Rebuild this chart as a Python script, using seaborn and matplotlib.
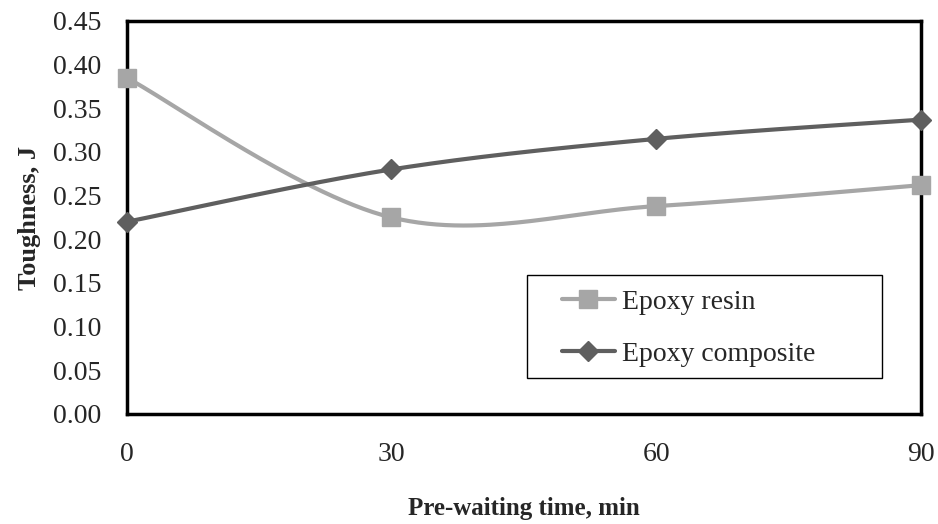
import numpy as np
import pandas as pd
import seaborn as sns
import matplotlib
matplotlib.use("Agg")
import matplotlib.pyplot as plt
from matplotlib.patches import Rectangle

# data
time_min = [0, 30, 60, 90]
resin = [0.385, 0.225, 0.238, 0.262]
composite = [0.220, 0.280, 0.315, 0.337]
series_names = ["Epoxy resin", "Epoxy composite"]
y_ticks = [0.00, 0.05, 0.10, 0.15, 0.20, 0.25, 0.30, 0.35, 0.40, 0.45]


def excel_smooth(x, y, n=60):
    # Excel-style smoothed line: cubic bezier between data points
    x = np.asarray(x, float)
    y = np.asarray(y, float)
    px = np.concatenate([[x[0]], x, [x[-1]]])
    py = np.concatenate([[y[0]], y, [y[-1]]])
    xs, ys = [], []
    t = np.linspace(0, 1, n)
    for i in range(1, len(px) - 2):
        p0 = np.array([px[i], py[i]])
        p3 = np.array([px[i + 1], py[i + 1]])
        c1 = p0 + (np.array([px[i + 1], py[i + 1]]) - np.array([px[i - 1], py[i - 1]])) / 6
        c2 = p3 - (np.array([px[i + 2], py[i + 2]]) - np.array([px[i], py[i]])) / 6
        b = ((1 - t) ** 3)[:, None] * p0 + (3 * (1 - t) ** 2 * t)[:, None] * c1 \
            + (3 * (1 - t) * t ** 2)[:, None] * c2 + (t ** 3)[:, None] * p3
        xs.extend(b[:, 0])
        ys.extend(b[:, 1])
    return np.array(xs), np.array(ys)


sns.set_style("white")
plt.rcParams['font.family'] = ['Liberation Serif', 'DejaVu Serif']

fig, ax = plt.subplots(figsize=(9.38, 5.24), dpi=100)
fig.subplots_adjust(left=0.135, right=0.982, top=0.96, bottom=0.21)

colors = ["#A6A6A6", "#5F5F5F"]
markers = ["s", "D"]
sizes = [13, 10]
for name, vals, c, m, ms in zip(series_names, [resin, composite], colors, markers, sizes):
    sx, sy = excel_smooth(time_min, vals)
    sns.lineplot(x=sx, y=sy, ax=ax, color=c, linewidth=3, sort=False, estimator=None)
    ax.plot(time_min, vals, linestyle="none", marker=m, markersize=ms,
            color=c, clip_on=False, zorder=5)
    # legend proxy
    ax.plot([], [], color=c, linewidth=3, marker=m, markersize=ms, label=name)

ax.set_xlim(0, 90)
ax.set_ylim(0, 0.45)
ax.set_xticks(time_min)
ax.set_yticks(y_ticks)
ax.set_yticklabels([f"{v:.2f}" for v in y_ticks])
ax.tick_params(axis="both", length=0, labelsize=20)
ax.tick_params(axis="x", pad=20)
ax.tick_params(axis="y", pad=18)

for s in ax.spines.values():
    s.set_color("black")
    s.set_linewidth(2.5)

ax.set_xlabel("Pre-waiting time, min", fontsize=18, fontweight="bold", labelpad=22)
ax.set_ylabel("Toughness, J", fontsize=19, fontweight="bold", labelpad=9)

# legend box drawn separately, entries indented like the original
ax.add_patch(Rectangle((0.504, 0.092), 0.447, 0.262, transform=ax.transAxes,
                       fill=True, facecolor="white", edgecolor="black",
                       linewidth=1, zorder=6))
leg = ax.legend(loc="center left", bbox_to_anchor=(0.548, 0.219),
                fontsize=20, frameon=False, borderpad=0, labelspacing=0.95,
                handlelength=1.9, handletextpad=0.25, borderaxespad=0)
leg.set_zorder(7)

fig.savefig("out.png", dpi=100)
